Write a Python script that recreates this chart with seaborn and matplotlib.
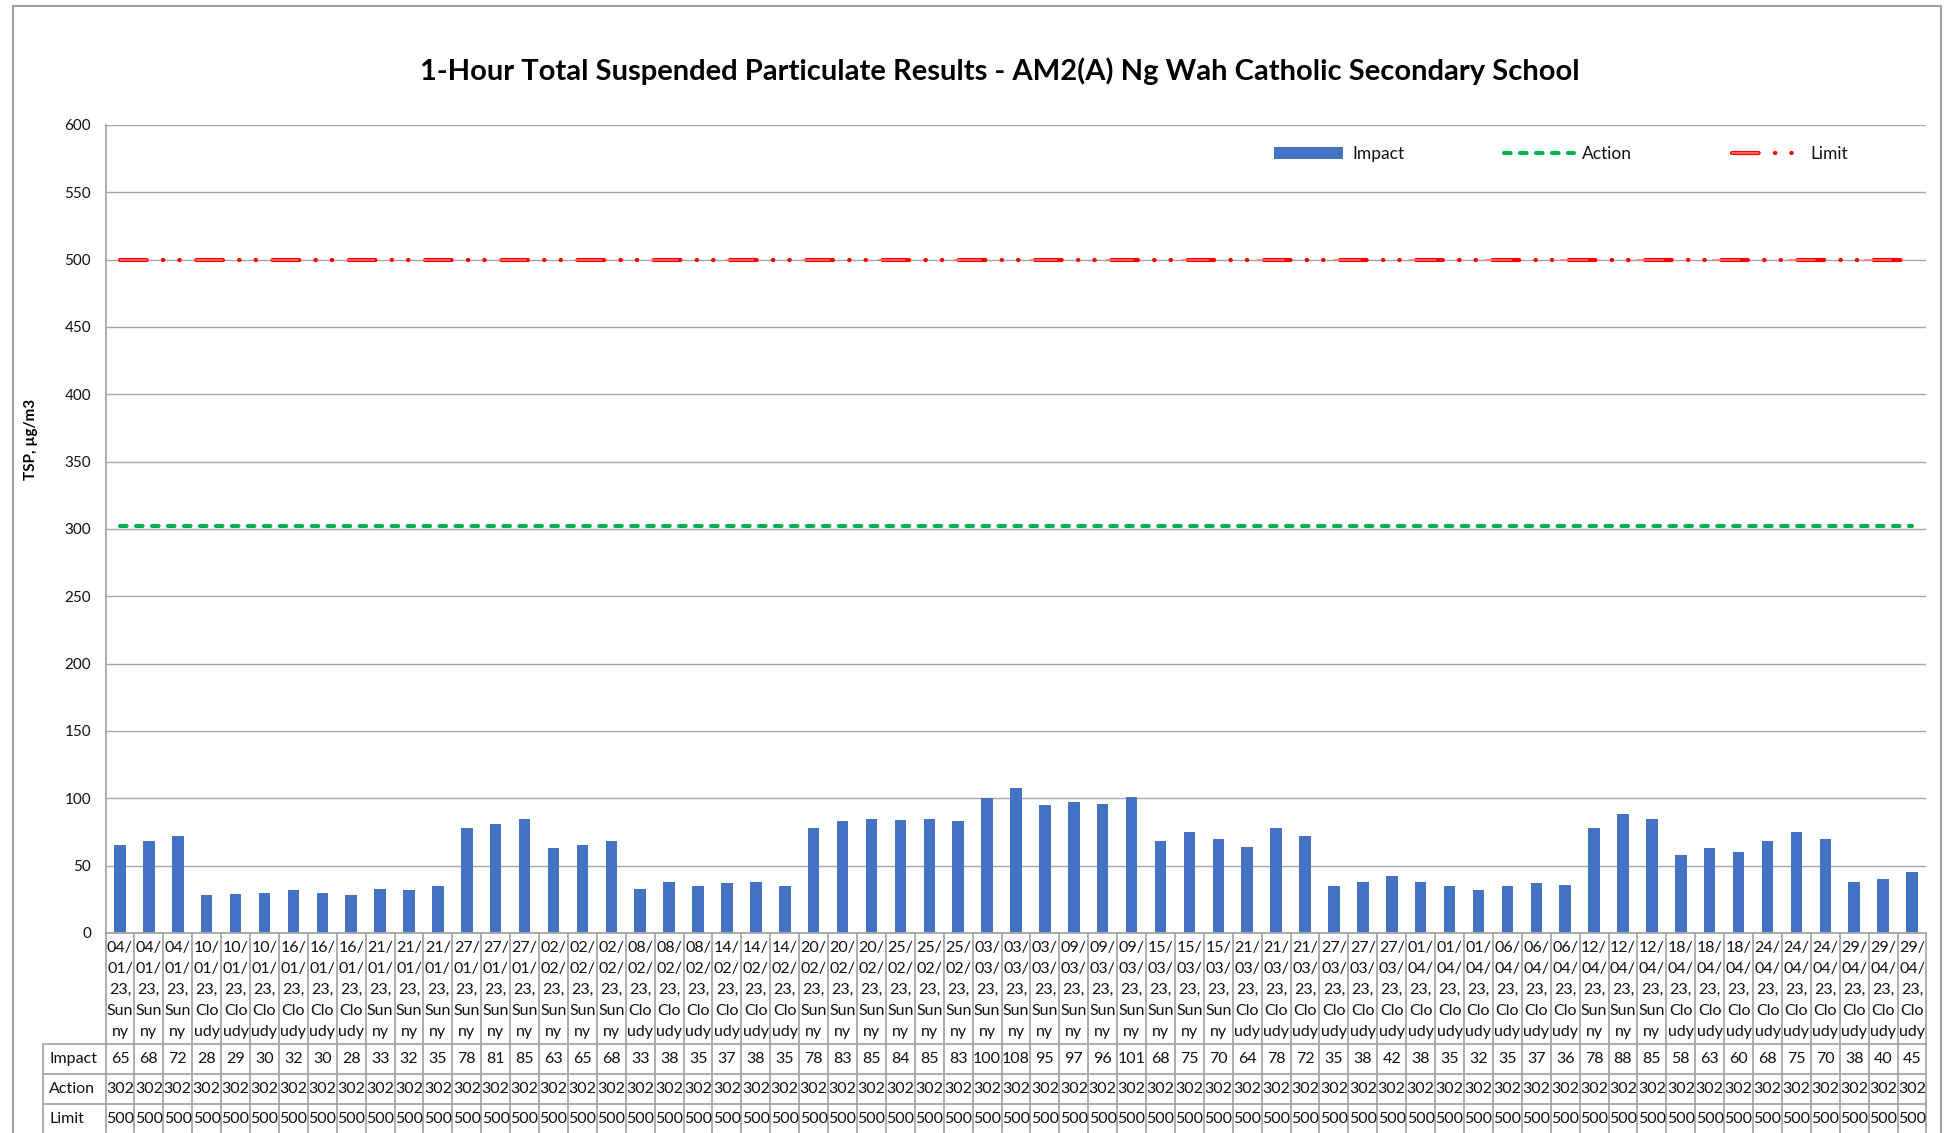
import pandas as pd
import seaborn as sns
import matplotlib.pyplot as plt
from matplotlib.patches import Patch
from matplotlib.lines import Line2D
from matplotlib.legend_handler import HandlerTuple

dates = ['04/01/23', '10/01/23', '16/01/23', '21/01/23', '27/01/23', '02/02/23', '08/02/23',
         '14/02/23', '20/02/23', '25/02/23', '03/03/23', '09/03/23', '15/03/23', '21/03/23',
         '27/03/23', '01/04/23', '06/04/23', '12/04/23', '18/04/23', '24/04/23', '29/04/23']
weather = ['Sunny', 'Cloudy', 'Cloudy', 'Sunny', 'Sunny', 'Sunny', 'Cloudy',
           'Cloudy', 'Sunny', 'Sunny', 'Sunny', 'Sunny', 'Sunny', 'Cloudy',
           'Cloudy', 'Cloudy', 'Cloudy', 'Sunny', 'Cloudy', 'Cloudy', 'Cloudy']
impact = [65, 68, 72, 28, 29, 30, 32, 30, 28, 33, 32, 35, 78, 81, 85, 63, 65, 68, 33, 38, 35,
          37, 38, 35, 78, 83, 85, 84, 85, 83, 100, 108, 95, 97, 96, 101, 68, 75, 70, 64, 78, 72,
          35, 38, 42, 38, 35, 32, 35, 37, 36, 78, 88, 85, 58, 63, 60, 68, 75, 70, 38, 40, 45]
action = [302] * 63
limit = [500] * 63

title = '1-Hour Total Suspended Particulate Results - AM2(A) Ng Wah Catholic Secondary School'
ylabel = 'TSP, µg/m3'

# 3 samples per day
sample_dates = [d for d in dates for _ in range(3)]
sample_weather = [w for w in weather for _ in range(3)]
df = pd.DataFrame({'pos': range(len(impact)), 'date': sample_dates, 'weather': sample_weather,
                   'Impact': impact, 'Action': action, 'Limit': limit})

sns.set_style('white')
plt.rcParams['font.family'] = ['Lato', 'DejaVu Sans']
plt.rcParams['lines.scale_dashes'] = False

blue = '#4472C4'
green = '#00B050'
red = '#FF0000'
pink = '#FF7A7A'
gray = '#A6A6A6'
txt = '#111111'

W, H = 1948, 1133
fig = plt.figure(figsize=(W / 100, H / 100), dpi=100)


def px_box(l, t, r, b):
    return [l / W, 1 - b / H, (r - l) / W, (b - t) / H]


ax = fig.add_axes(px_box(105.5, 125, 1926.5, 933))
sns.barplot(data=df, x='pos', y='Impact', color=blue, width=0.4, saturation=1,
            linewidth=0, errorbar=None, ax=ax)

act_style = dict(color=green, lw=2.9, ls=(0, (4.8, 6.7)), dash_capstyle='round')
lim_outer = dict(color=red, lw=3.0, ls=(0, (19.2, 11.7, 0.3, 11.5, 0.3, 11.9)), dash_capstyle='round')
lim_inner = dict(color=pink, lw=1.1, ls=(0, (19.2, 35.4)), dash_capstyle='round')

ax.plot(df['pos'], df['Action'], zorder=3, **act_style)
ax.plot(df['pos'], df['Limit'], zorder=3, **lim_outer)
ax.plot(df['pos'], df['Limit'], zorder=4, **lim_inner)

ax.set_xlim(-0.5, len(impact) - 0.5)
ax.set_ylim(0, 600)
ax.set_yticks(range(0, 601, 50))
ax.set_xticks([])
ax.set_xlabel('')
ax.set_ylabel('')
ax.set_axisbelow(True)
ax.yaxis.grid(True, color=gray, lw=1.0)
for s in ['top', 'right']:
    ax.spines[s].set_visible(False)
for s in ['left', 'bottom']:
    ax.spines[s].set_color(gray)
    ax.spines[s].set_linewidth(1.3)
ax.tick_params(axis='y', length=4.3, width=1, color=gray, pad=6, labelsize=11, labelcolor=txt)

# legend
h_imp = Patch(facecolor=blue, edgecolor='none')
h_act = Line2D([], [], **act_style)
h_lim = (Line2D([], [], **lim_outer), Line2D([], [], **lim_inner))
ax.legend([h_imp, h_act, h_lim], ['Impact', 'Action', 'Limit'],
          handler_map={tuple: HandlerTuple(ndivide=1, pad=0)}, ncol=3,
          loc='center left', bbox_to_anchor=(1274 / W, 1 - 154 / H),
          bbox_transform=fig.transFigure, frameon=False, fontsize=12.5,
          handlelength=4.0, handletextpad=0.5, columnspacing=5.75,
          borderpad=0, borderaxespad=0, labelcolor=txt)

fig.text(1000 / W, 1 - 71 / H, title, ha='center', va='center', fontsize=21,
         fontweight='bold', color='#000000')
fig.text(31 / W, 1 - 439 / H, ylabel, rotation=90, ha='center', va='center',
         fontsize=11, fontweight='bold', color='#000000')

# data table under the axis
tab = fig.add_axes(px_box(105.5, 933, 1926.5, 1140))
n = len(impact)
tab.set_xlim(-0.5, n - 0.5)
tab.set_ylim(1140, 933)
tab.axis('off')
cell_w = 1821 / n
lab_left = -0.5 - (105.5 - 43) / cell_w
line_kw = dict(color=gray, lw=1.3, clip_on=False)
for i in range(n + 1):
    tab.plot([i - 0.5, i - 0.5], [933, 1140], **line_kw)
for y in [1044, 1074, 1104, 1134]:
    tab.plot([lab_left, n - 0.5], [y, y], **line_kw)
tab.plot([lab_left, lab_left], [1044, 1140], **line_kw)

for i, row in df.iterrows():
    d, m, yy = row['date'].split('/')
    w = row['weather']
    parts = [d + '/', m + '/', yy + ',', w[:3], w[3:]]
    for k, p in enumerate(parts):
        tab.text(i, 948 + 21 * k, p, ha='center', va='center', fontsize=11.5, color=txt)
    for y, col in zip([1059, 1089, 1119], ['Impact', 'Action', 'Limit']):
        tab.text(i, y, str(row[col]), ha='center', va='center', fontsize=11.5, color=txt)

for y, name in zip([1059, 1089, 1119], ['Impact', 'Action', 'Limit']):
    tab.text(lab_left + 0.22, y, name, ha='left', va='center', fontsize=11.5, color=txt)

# chart area border
for xs, ys in [([13, 13], [1133, 5.7]), ([13, 1941], [5.7, 5.7]), ([1941, 1941], [5.7, 1133])]:
    fig.add_artist(Line2D([x / W for x in xs], [1 - y / H for y in ys],
                          transform=fig.transFigure, color='#A0A0A0', lw=1.5))

plt.savefig('out.png', dpi=100)
